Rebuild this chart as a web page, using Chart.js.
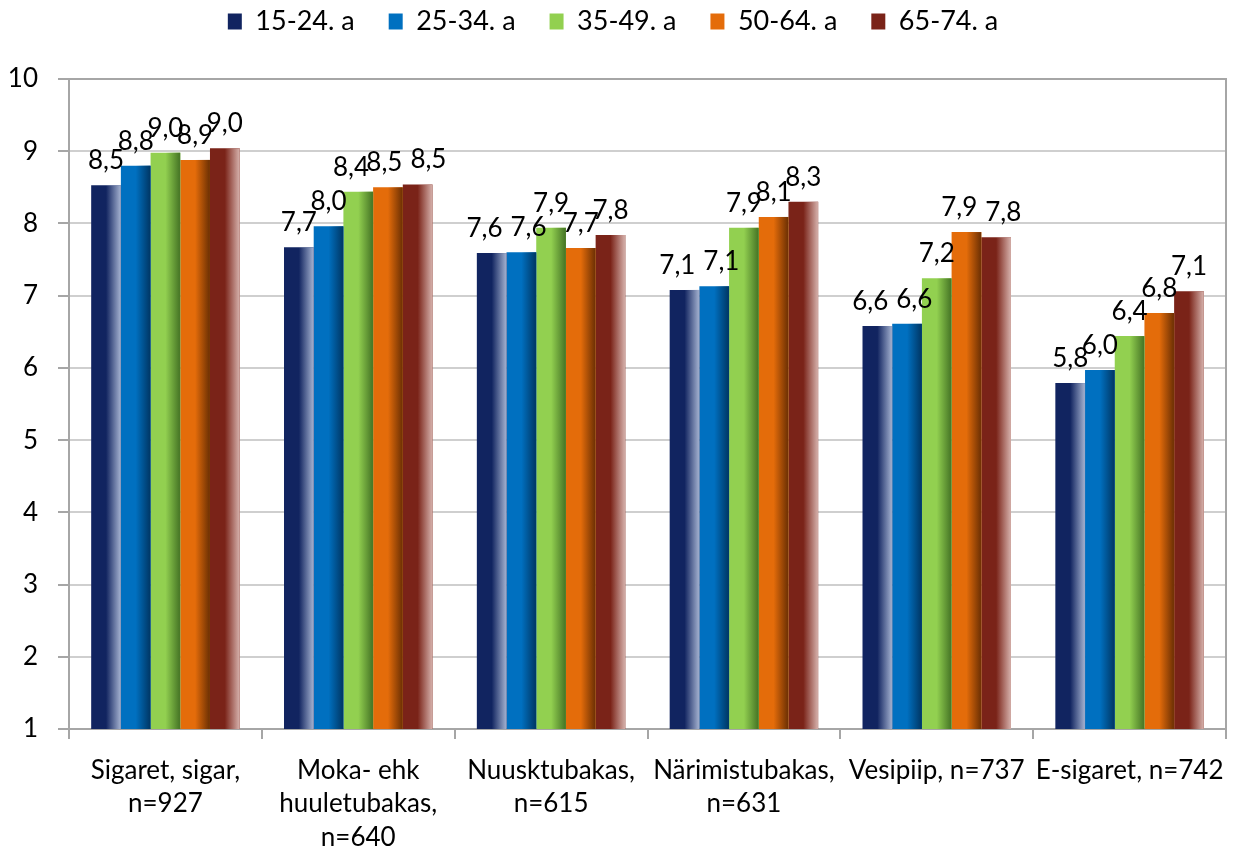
<!DOCTYPE html>
<html lang="et">
<head>
<meta charset="utf-8">
<title>Tubakatoodete hinnangud vanuserühmiti</title>
<script src="https://cdn.jsdelivr.net/npm/chart.js@4.4.1/dist/chart.umd.min.js"></script>
<style>
  html, body { margin: 0; padding: 0; background: #ffffff; }
  #wrap { position: relative; width: 1233px; height: 849px; }
</style>
</head>
<body>
<div id="wrap"><canvas id="chart"></canvas></div>
<script>
// Categories (multi-line axis labels)
const categories = [
  ['Sigaret, sigar,', 'n=927'],
  ['Moka- ehk', 'huuletubakas,', 'n=640'],
  ['Nuusktubakas,', 'n=615'],
  ['Närimistubakas,', 'n=631'],
  ['Vesipiip, n=737'],
  ['E-sigaret, n=742']
];

// Series names
const seriesNames = ['15-24. a', '25-34. a', '35-49. a', '50-64. a', '65-74. a'];

// Mean scores per age group, one value per category
const age15_24 = [8.53, 7.67, 7.59, 7.08, 6.58, 5.79];
const age25_34 = [8.80, 7.96, 7.60, 7.13, 6.61, 5.97];
const age35_49 = [8.98, 8.44, 7.94, 7.94, 7.24, 6.44];
const age50_64 = [8.88, 8.50, 7.66, 8.09, 7.88, 6.76];
const age65_74 = [9.04, 8.54, 7.84, 8.30, 7.81, 7.06];

// Y axis range
const yMin = 1;
const yMax = 10;

// Fill colours and the shaded edge colour of each series
const baseColors = ['#112460', '#0070c0', '#92d050', '#e46c0a', '#7a2318'];
const edgeColors = ['#9aa8c8', '#003a6a', '#4a7a28', '#743404', '#cfa7a1'];

const seriesValues = [age15_24, age25_34, age35_49, age50_64, age65_74];

const LABEL_FONT = '26px Lato';

function hexToRgba(hex, a) {
  const n = parseInt(hex.slice(1), 16);
  return 'rgba(' + ((n >> 16) & 255) + ',' + ((n >> 8) & 255) + ',' + (n & 255) + ',' + a + ')';
}

// Plot frame, shaded bar edges and value labels
const barDecor = {
  id: 'barDecor',
  beforeDatasetsDraw(chart) {
    const a = chart.chartArea;
    const ctx = chart.ctx;
    ctx.save();
    ctx.strokeStyle = '#a6a6a6';
    ctx.lineWidth = 2;
    ctx.beginPath();
    ctx.moveTo(a.left, a.top);
    ctx.lineTo(a.right, a.top);
    ctx.lineTo(a.right, a.bottom);
    ctx.stroke();
    ctx.restore();
  },
  afterDatasetsDraw(chart) {
    const ctx = chart.ctx;
    const a = chart.chartArea;
    ctx.save();
    ctx.beginPath();
    ctx.rect(a.left, a.top, a.right - a.left, a.bottom - a.top);
    ctx.clip();
    chart.data.datasets.forEach((ds, di) => {
      const meta = chart.getDatasetMeta(di);
      meta.data.forEach((bar) => {
        const left = bar.x - bar.width / 2;
        const right = bar.x + bar.width / 2;
        const bottom = Math.min(bar.base, a.bottom);
        const g = ctx.createLinearGradient(left, 0, right, 0);
        g.addColorStop(0, hexToRgba(edgeColors[di], 0));
        g.addColorStop(0.5, hexToRgba(edgeColors[di], 0));
        g.addColorStop(0.96, hexToRgba(edgeColors[di], 1));
        g.addColorStop(1, hexToRgba(edgeColors[di], 1));
        ctx.fillStyle = g;
        ctx.fillRect(left, bar.y, bar.width, bottom - bar.y);
      });
    });
    ctx.restore();

    // value labels above the bars; neighbours at nearly the same height are pushed apart
    ctx.save();
    ctx.fillStyle = '#000000';
    ctx.font = LABEL_FONT;
    ctx.textAlign = 'center';
    ctx.textBaseline = 'alphabetic';
    const nCat = chart.data.labels.length;
    for (let i = 0; i < nCat; i++) {
      const items = chart.data.datasets.map((ds, di) => {
        const bar = chart.getDatasetMeta(di).data[i];
        const txt = ds.data[i].toFixed(1).replace('.', ',');
        return { txt: txt, x: bar.x, y: bar.y - 16, w: ctx.measureText(txt).width };
      });
      for (let k = 1; k < items.length; k++) {
        const p = items[k - 1], c = items[k];
        if (Math.abs(p.y - c.y) < 6) {
          const need = (p.x + p.w / 2 + 8) - (c.x - c.w / 2);
          if (need > 0) { p.x -= need / 2; c.x += need / 2; }
        }
      }
      items.forEach(it => ctx.fillText(it.txt, it.x, it.y));
    }
    ctx.restore();
  }
};

// Fixed legend band height so the plot starts at the same place
const legendBand = {
  id: 'legendBand',
  beforeInit(chart) {
    if (!chart.legend) return;
    const fit = chart.legend.fit;
    chart.legend.fit = function () {
      fit.call(this);
      this.height = 105;
    };
  }
};

function build() {
  Chart.defaults.font.family = 'Lato';
  Chart.defaults.color = '#000000';

  const datasets = seriesNames.map((name, i) => ({
    label: name,
    data: seriesValues[i],
    backgroundColor: baseColors[i],
    borderWidth: 0,
    categoryPercentage: 0.77,
    barPercentage: 1.0
  }));

  new Chart(document.getElementById('chart'), {
    type: 'bar',
    data: { labels: categories, datasets: datasets },
    options: {
      responsive: true,
      maintainAspectRatio: false,
      animation: false,
      layout: { padding: { left: 0, right: 7, top: -26, bottom: 0 } },
      plugins: {
        legend: {
          position: 'top',
          labels: {
            boxWidth: 14,
            boxHeight: 16,
            padding: 34,
            color: '#000000',
            font: { size: 27 }
          }
        },
        tooltip: { enabled: false }
      },
      scales: {
        x: {
          grid: {
            display: true,
            drawOnChartArea: false,
            drawTicks: true,
            tickLength: 10,
            offset: true,
            color: '#a6a6a6',
            lineWidth: 2
          },
          border: { display: true, color: '#a6a6a6', width: 2 },
          ticks: {
            autoSkip: false,
            maxRotation: 0,
            minRotation: 0,
            padding: 15,
            color: '#000000',
            font: { size: 26, lineHeight: 1.28 }
          },
          afterFit(scale) {
            scale.height = 120;
            scale.paddingLeft = 0;
            scale.paddingRight = 0;
          }
        },
        y: {
          min: yMin,
          max: yMax,
          grid: {
            color: '#cfcfcf',
            lineWidth: 2,
            tickLength: 11,
            tickColor: '#a6a6a6'
          },
          border: { display: true, color: '#a6a6a6', width: 2 },
          ticks: {
            stepSize: 1,
            padding: 20,
            color: '#000000',
            font: { size: 26 }
          },
          afterFit(scale) { scale.width = 69; }
        }
      }
    },
    plugins: [legendBand, barDecor]
  });
}

if (document.fonts && document.fonts.load) {
  Promise.all([
    document.fonts.load('26px Lato'),
    document.fonts.load('27px Lato')
  ]).then(build, build);
} else {
  build();
}
</script>
</body>
</html>
